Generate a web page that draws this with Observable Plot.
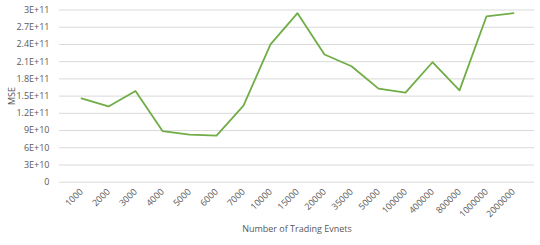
<!DOCTYPE html>
<html>
<head>
<meta charset="utf-8">
<script src="https://cdn.jsdelivr.net/npm/d3@7"></script>
<script src="https://cdn.jsdelivr.net/npm/@observablehq/plot@0.6"></script>
<style>
  html, body { margin: 0; padding: 0; background: #fff; }
  #chart { width: 540px; height: 245px; }
</style>
</head>
<body>
<div id="chart"></div>
<script>
const categories = ["1000","2000","3000","4000","5000","6000","7000","10000","15000","20000","35000","50000","100000","400000","800000","1000000","2000000"];
const mse = [1.46e11, 1.32e11, 1.59e11, 0.89e11, 0.83e11, 0.81e11, 1.335e11, 2.40e11, 2.945e11, 2.225e11, 2.02e11, 1.63e11, 1.56e11, 2.09e11, 1.60e11, 2.89e11, 2.945e11];
const yTicks = [0, 3e10, 6e10, 9e10, 1.2e11, 1.5e11, 1.8e11, 2.1e11, 2.4e11, 2.7e11, 3e11];

const data = categories.map((c, i) => ({cat: c, mse: mse[i]}));
const fmt = d => d === 0 ? "0" : d.toExponential().replace("e+", "E+");
const gray = "#595959";

const chart = Plot.plot({
  width: 540,
  height: 245,
  marginLeft: 59,
  marginRight: 6,
  marginTop: 9.5,
  marginBottom: 63.3,
  style: {fontFamily: "'Open Sans', sans-serif", fontSize: "9px", color: gray, background: "#fff"},
  x: {type: "point", domain: categories, padding: 0.5},
  y: {domain: [0, 3e11]},
  marks: [
    Plot.ruleY(yTicks, {stroke: "#d9d9d9", strokeWidth: 1}),
    Plot.axisY({ticks: yTicks, tickFormat: fmt, tickSize: 0, tickPadding: 10, label: "MSE", labelAnchor: "center", labelArrow: false, labelOffset: 51, fill: gray}),
    Plot.axisX({tickSize: 0, tickRotate: -45, tickPadding: 8, label: "Number of Trading Evnets", labelAnchor: "center", labelArrow: false, labelOffset: 50, fill: gray}),
    Plot.line(data, {x: "cat", y: "mse", stroke: "#70AD47", strokeWidth: 1.8})
  ]
});
document.getElementById("chart").appendChild(chart);
</script>
</body>
</html>
